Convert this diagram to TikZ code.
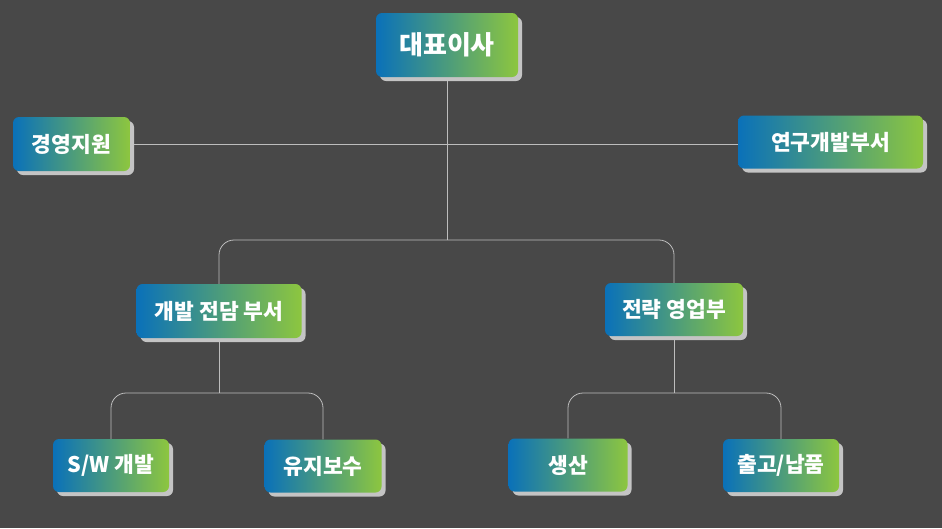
\documentclass[tikz,border=0pt]{standalone}
\usepackage{fontspec}
\setmainfont{Noto Sans CJK KR}
\usetikzlibrary{shadows}
\definecolor{bgc}{HTML}{484848}
\definecolor{gblue}{HTML}{0A71B9}
\definecolor{ggreen}{HTML}{8DC63F}
\definecolor{shgray}{HTML}{C4C4C4}
\definecolor{linec}{HTML}{BDBDBD}
\begin{document}
\begin{tikzpicture}[x=1pt,y=-1pt,
  box/.style={rectangle, rounded corners=6pt, left color=gblue, right color=ggreen,
    draw=none, text=white, inner sep=0pt, minimum height=53pt,
    font=\fontsize{21.5}{24}\selectfont\bfseries,
    general shadow={fill=shgray, shadow xshift=4pt, shadow yshift=-4pt}},
  conn/.style={draw=linec, line width=0.8pt},
  branch/.style={conn, rounded corners=15pt}]
\fill[bgc] (0,0) rectangle (942,528);
\useasboundingbox (0,0) rectangle (942,528);
\coordinate (l1) at (0,240);
\coordinate (l2) at (0,393);
\coordinate (lm) at (0,144);
% nodes
\node[box, minimum width=142pt, minimum height=64pt, font=\fontsize{26}{30}\selectfont\bfseries] (ceo) at (447,45) {대표이사};
\node[box, minimum width=117pt, minimum height=54pt] (mgmt) at (71.5,144) {경영지원};
\node[box, minimum width=185pt] (rnd) at (830.5,142) {연구개발부서};
\node[box, minimum width=165pt, minimum height=54pt] (dev) at (219,311) {개발 전담 부서};
\node[box, minimum width=138pt] (sales) at (674,309.5) {전략 영업부};
\node[box, minimum width=116pt] (sw) at (111,465.5) {S/W 개발};
\node[box, minimum width=117pt] (maint) at (323,466) {유지보수};
\node[box, minimum width=119pt] (prod) at (568,465) {생산};
\node[box, minimum width=116pt] (ship) at (781,465.5) {출고/납품};
% hubs
\coordinate (hub1) at (ceo.south |- l1);
\coordinate (hub2) at (dev.south |- l2);
\coordinate (hub3) at (sales.south |- l2);
% connectors
\draw[conn] ([yshift=-4pt]ceo.south) -- (hub1);
\draw[conn] ([xshift=4pt]mgmt.east |- lm) -- (rnd.west |- lm);
\draw[branch] (dev.north) |- (hub1) -| (sales.north);
\draw[conn] ([yshift=-4pt]dev.south) -- (hub2);
\draw[branch] (sw.north) |- (hub2) -| (maint.north);
\draw[conn] ([yshift=-4pt]sales.south) -- (hub3);
\draw[branch] (prod.north) |- (hub3) -| (ship.north);
\end{tikzpicture}
\end{document}
